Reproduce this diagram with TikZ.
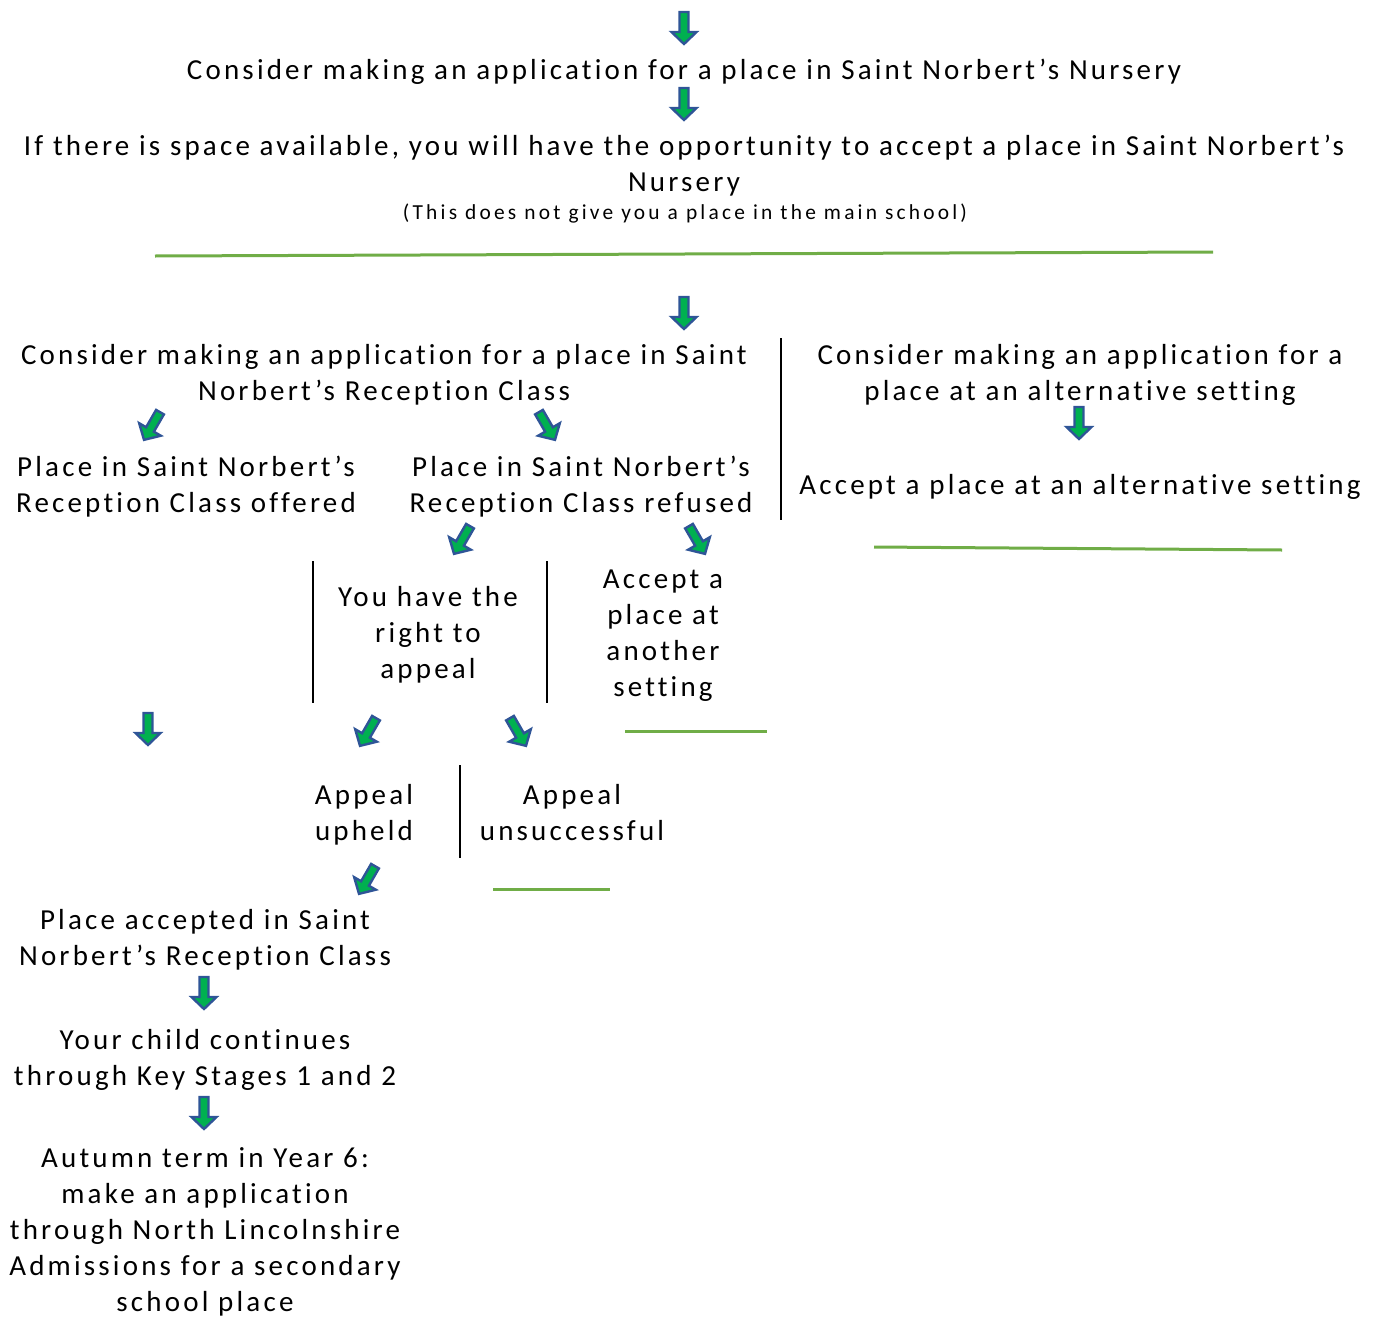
\documentclass[tikz,border=0pt]{standalone}
\usepackage{fontspec}
\setmainfont{Carlito}[LetterSpace=11,Ligatures=NoCommon]
\newfontfamily\smallfam{Carlito}[LetterSpace=15,Ligatures=NoCommon]
\definecolor{agreen}{HTML}{00B050}
\definecolor{ablue}{HTML}{2F5597}
\definecolor{lgreen}{HTML}{70AD47}
\tikzset{
  barrow/.pic={\draw[ablue, fill=agreen, line width=2.4pt, line join=miter]
     (-4.5,-16)--(4.5,-16)--(4.5,4)--(12.5,4)--(0,16)--(-12.5,4)--(-4.5,4)--cycle;},
  txt/.style={font=\fontsize{29}{36}\selectfont, align=center, inner sep=0pt},
  small/.style={font=\smallfam\fontsize{21.4}{25}\selectfont, align=center, inner sep=0pt},
  gline/.style={draw=lgreen, line width=3pt},
  sepline/.style={draw=black, line width=1.5pt}
}
\begin{document}
\begin{tikzpicture}[x=1pt,y=-1pt]
\useasboundingbox (0,0) rectangle (1379,1317);
% arrows
\pic at (684,28) {barrow};
\pic at (684,104) {barrow};
\pic at (684,313) {barrow};
\pic at (1079,423) {barrow};
\pic[rotate=-30] at (152,426) {barrow};
\pic[rotate=30] at (547,426) {barrow};
\pic[rotate=-30] at (462,540) {barrow};
\pic[rotate=30] at (697,540) {barrow};
\pic at (148,729) {barrow};
\pic[rotate=-30] at (368,732) {barrow};
\pic[rotate=30] at (518,732) {barrow};
\pic[rotate=-30] at (367,880) {barrow};
\pic at (204,993) {barrow};
\pic at (204,1113) {barrow};
% texts
\node[txt] (t1) at (684,72) {Consider making an application for a place in Saint Norbert’s Nursery};
\node[txt] (t2) at (684,166) {If there is space available, you will have the opportunity to accept a place in Saint Norbert’s\\Nursery};
\node[small] (t2b) at (685,214) {(This does not give you a place in the main school)};
\node[txt] (t3) at (384,375) {Consider making an application for a place in Saint\\Norbert’s Reception Class};
\node[txt] (t4) at (1080,375) {Consider making an application for a\\place at an alternative setting};
\node[txt] (t5) at (1080,487) {Accept a place at an alternative setting};
\node[txt] (t6) at (186,487) {Place in Saint Norbert’s\\Reception Class offered};
\node[txt] (t7) at (581,487) {Place in Saint Norbert’s\\Reception Class refused};
\node[txt] (t8) at (428,635) {You have the\\right to\\appeal};
\node[txt] (t9) at (663,635.5) {Accept a\\place at\\another\\setting};
\node[txt] (t10) at (364,814.5) {Appeal\\upheld};
\node[txt] (t11) at (572,813) {Appeal\\unsuccessful};
\node[txt] (t12) at (205,940) {Place accepted in Saint\\Norbert’s Reception Class};
\node[txt] (t13) at (205,1060) {Your child continues\\through Key Stages 1 and 2};
\node[txt] (t14) at (205,1232) {Autumn term in Year 6:\\make an application\\through North Lincolnshire\\Admissions for a secondary\\school place};
% lines
\draw[gline] (155,256) -- (1213,252);
\draw[gline] (874,547) -- (1282,550);
\draw[gline] (625,731) -- (767,731);
\draw[gline] (493,889) -- (610,889);
\draw[sepline] (781,338) -- (781,520);
\draw[sepline] (313,561) -- (313,703);
\draw[sepline] (547,561) -- (547,703);
\draw[sepline] (460,765) -- (460,858);
\end{tikzpicture}
\end{document}
